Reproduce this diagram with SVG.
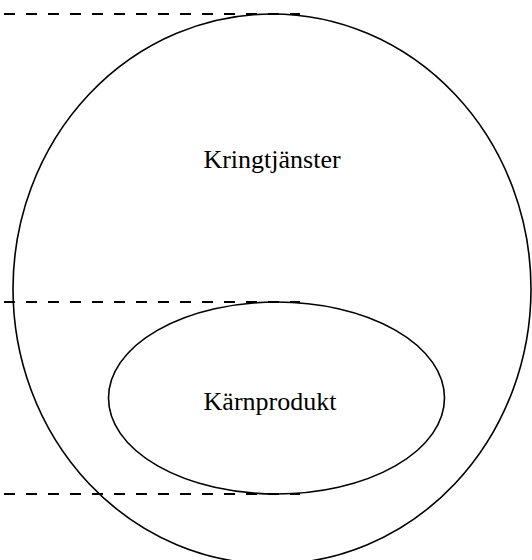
<svg xmlns="http://www.w3.org/2000/svg" width="532" height="560" viewBox="0 0 532 560">
<style>
.shape{fill:none;stroke:#000;stroke-width:1.6}
.dash{fill:none;stroke:#000;stroke-width:2;stroke-dasharray:11 11}
.lbl{font-family:"Liberation Serif","Times New Roman",serif;font-size:26px;fill:#000;text-anchor:middle}
</style>
<rect width="532" height="560" fill="#fff"/>
<g id="connectors">
<line class="dash" x1="4" y1="14" x2="300" y2="14"/>
<line class="dash" x1="4" y1="302" x2="300" y2="302"/>
<line class="dash" x1="4" y1="494" x2="300" y2="494"/>
</g>
<g id="kringtjanster">
<ellipse class="shape" cx="272" cy="289" rx="259" ry="275"/>
<text class="lbl" x="272" y="168">Kringtjänster</text>
</g>
<g id="karnprodukt">
<ellipse class="shape" cx="276.5" cy="398" rx="168" ry="96"/>
<text class="lbl" x="270" y="410">Kärnprodukt</text>
</g>
</svg>
